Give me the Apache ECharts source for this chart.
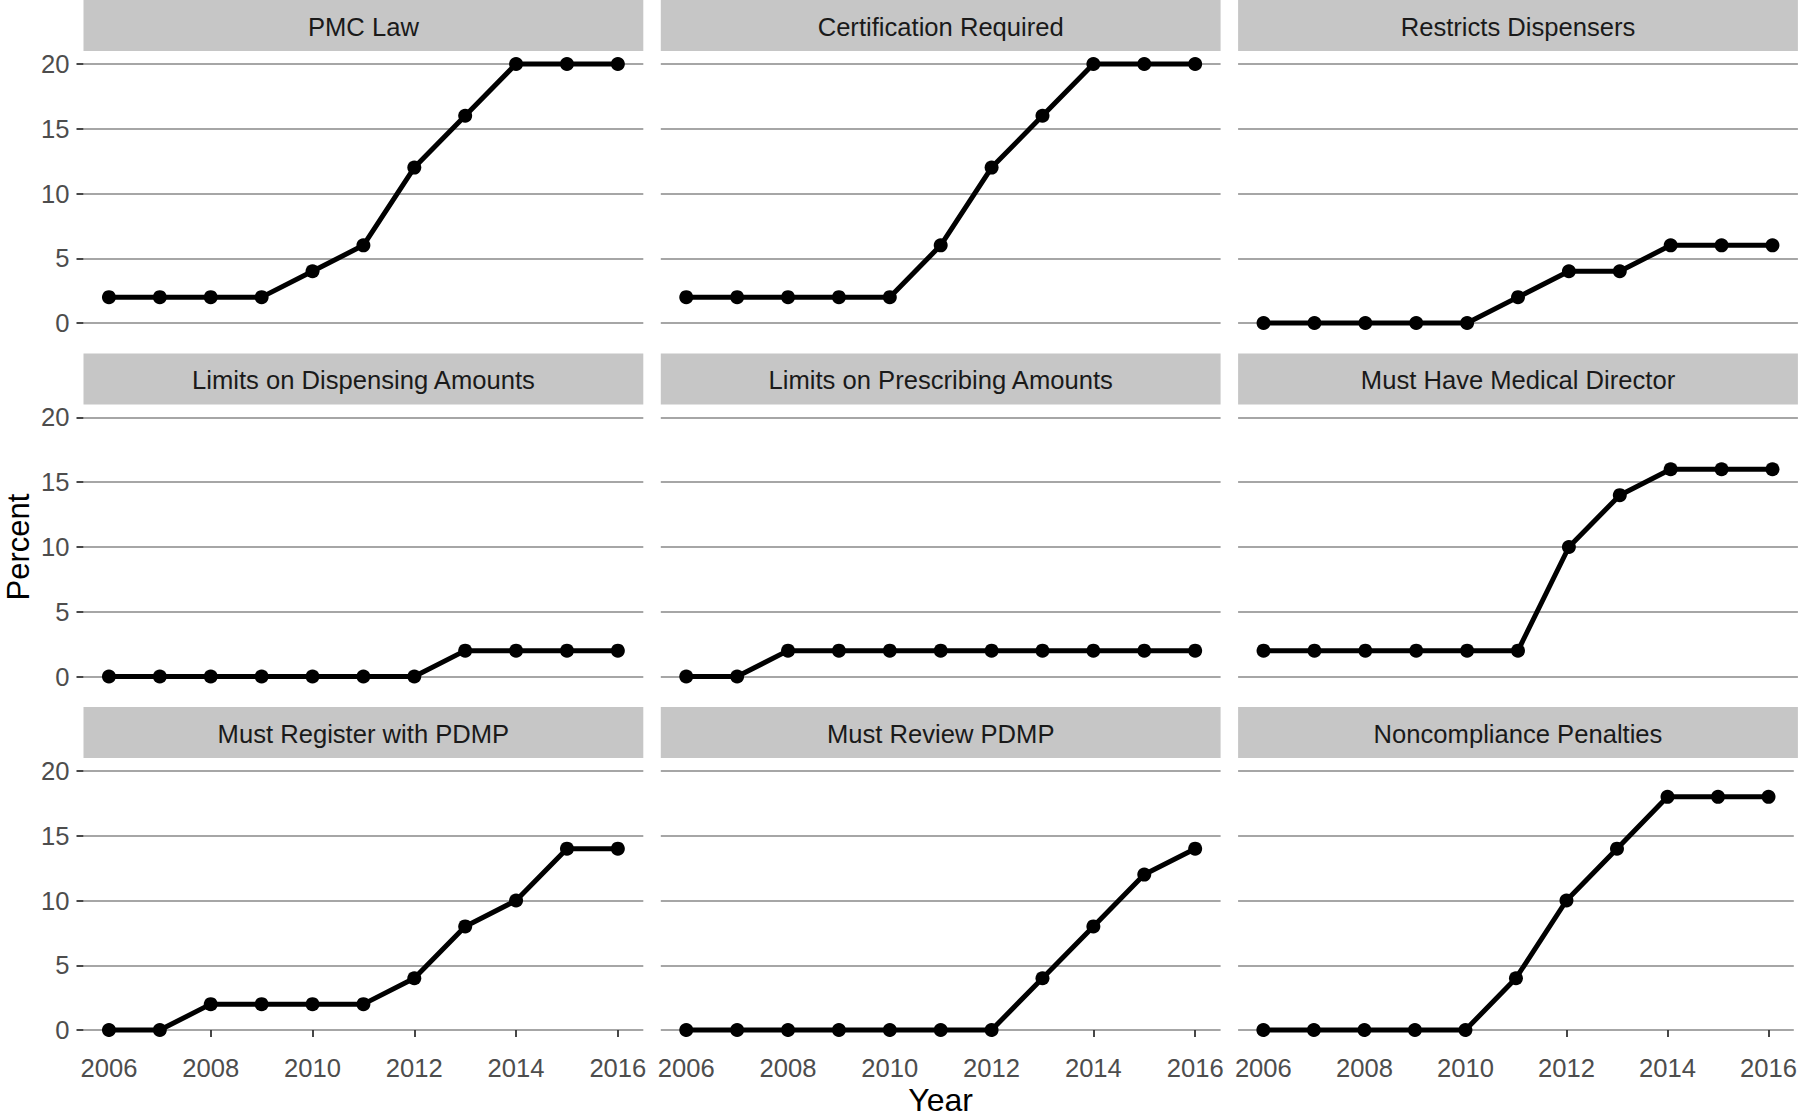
<!DOCTYPE html>
<html>
<head>
<meta charset="utf-8">
<script src="https://cdn.jsdelivr.net/npm/echarts@6/dist/echarts.min.js"></script>
<style>
html,body{margin:0;padding:0;background:#fff;}
#chart{width:1800px;height:1117px;}
</style>
</head>
<body>
<div id="chart"></div>
<script>
// ---- data ----
const years = [2006, 2007, 2008, 2009, 2010, 2011, 2012, 2013, 2014, 2015, 2016];
const xTickLabels = [2006, 2008, 2010, 2012, 2014, 2016];
const yTickLabels = [0, 5, 10, 15, 20];
const panelTitles = [
  "PMC Law", "Certification Required", "Restricts Dispensers",
  "Limits on Dispensing Amounts", "Limits on Prescribing Amounts", "Must Have Medical Director",
  "Must Register with PDMP", "Must Review PDMP", "Noncompliance Penalties"
];
const pmcLaw              = [2, 2, 2, 2, 4, 6, 12, 16, 20, 20, 20];
const certification       = [2, 2, 2, 2, 2, 6, 12, 16, 20, 20, 20];
const restrictsDispensers = [0, 0, 0, 0, 0, 2, 4, 4, 6, 6, 6];
const limitsDispensing    = [0, 0, 0, 0, 0, 0, 0, 2, 2, 2, 2];
const limitsPrescribing   = [0, 0, 2, 2, 2, 2, 2, 2, 2, 2, 2];
const medicalDirector     = [2, 2, 2, 2, 2, 2, 10, 14, 16, 16, 16];
const registerPDMP        = [0, 0, 2, 2, 2, 2, 4, 8, 10, 14, 14];
const reviewPDMP          = [0, 0, 0, 0, 0, 0, 0, 4, 8, 12, 14];
const penalties           = [0, 0, 0, 0, 0, 4, 10, 14, 18, 18, 18];
const panelValues = [pmcLaw, certification, restrictsDispensers, limitsDispensing,
  limitsPrescribing, medicalDirector, registerPDMP, reviewPDMP, penalties];
const xLabel = "Year";
const yLabel = "Percent";

// ---- layout ----
const FONT = "'Liberation Sans', Arial, Helvetica, sans-serif";
const L0 = 83.5, W = 559.8, G = 17.5, S = 51, P = 285, T0 = 0;
const grids = [], xAxes = [], yAxes = [], series = [], graphics = [];

panelValues.forEach((vals, i) => {
  const r = Math.floor(i / 3), c = i % 3;
  const left = L0 + c * (W + G);
  const stripTop = T0 + r * (S + P + G);
  const top = stripTop + S;
  grids.push({left: left, top: top, width: W, height: P, containLabel: false});
  xAxes.push({
    type: 'value', gridIndex: i, min: 2005.5, max: 2016.5,
    axisLine: {show: false},
    splitLine: {show: false},
    axisTick: {show: r === 2, length: 7, customValues: xTickLabels,
      lineStyle: {color: '#333', width: 1.8}},
    axisLabel: {show: r === 2, customValues: xTickLabels, fontSize: 25.6,
      fontFamily: FONT, color: '#4d4d4d', margin: 12,
      formatter: v => String(v)}
  });
  yAxes.push({
    type: 'value', gridIndex: i, min: -1, max: 21,
    axisLine: {show: false},
    splitLine: {show: true, lineStyle: {color: '#a6a6a6', width: 2}},
    axisTick: {show: c === 0, length: 7, customValues: yTickLabels,
      lineStyle: {color: '#333', width: 1.8}},
    axisLabel: {show: c === 0, customValues: yTickLabels, fontSize: 25.6,
      fontFamily: FONT, color: '#4d4d4d', margin: 14}
  });
  series.push({
    type: 'line', xAxisIndex: i, yAxisIndex: i,
    data: years.map((y, j) => [y, vals[j]]),
    symbol: 'circle', symbolSize: 14, showSymbol: true, clip: false,
    lineStyle: {color: '#000', width: 5},
    itemStyle: {color: '#000'},
    animation: false
  });
  graphics.push({
    type: 'rect', shape: {x: left, y: stripTop, width: W, height: S},
    style: {fill: '#c6c6c6'}, silent: true
  });
  graphics.push({
    type: 'text', x: left + W / 2, y: stripTop + S / 2 + 1,
    style: {text: panelTitles[i], fill: '#1a1a1a', font: '25.6px ' + FONT,
      textAlign: 'center', textVerticalAlign: 'middle'}, silent: true
  });
});

graphics.push({
  type: 'text', x: 18, y: 547, rotation: Math.PI / 2,
  style: {text: yLabel, fill: '#000', font: '31px ' + FONT,
    textAlign: 'center', textVerticalAlign: 'middle'}
});
graphics.push({
  type: 'text', x: L0 + (3 * W + 2 * G) / 2, y: 1100,
  style: {text: xLabel, fill: '#000', font: '32px ' + FONT,
    textAlign: 'center', textVerticalAlign: 'middle'}
});

const chart = echarts.init(document.getElementById('chart'), null, {renderer: 'svg'});
chart.setOption({
  animation: false,
  backgroundColor: '#fff',
  grid: grids, xAxis: xAxes, yAxis: yAxes, series: series,
  graphic: graphics
});
</script>
</body>
</html>
